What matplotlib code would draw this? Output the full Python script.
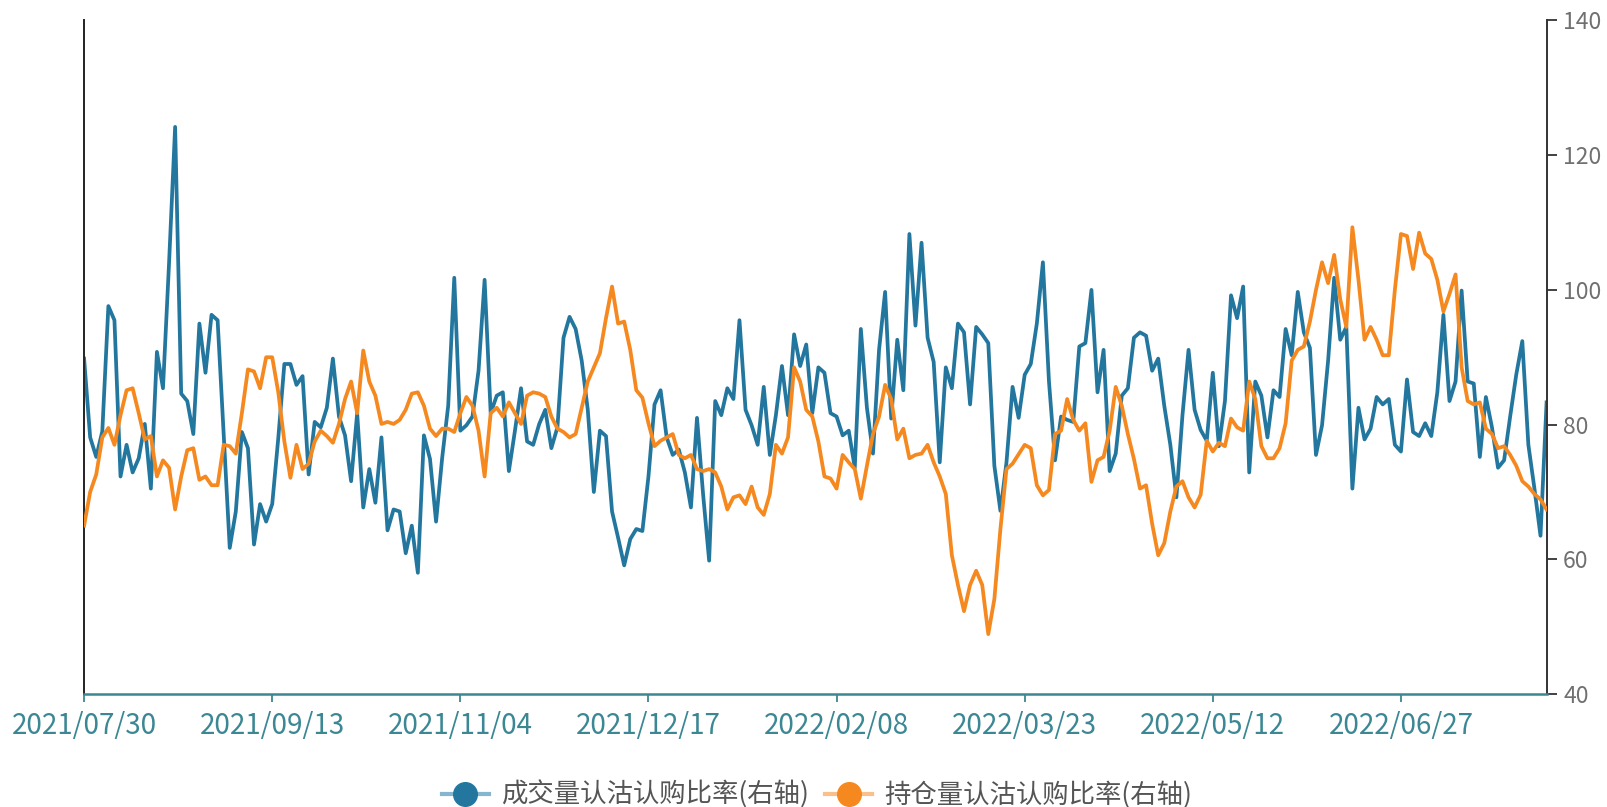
import matplotlib
matplotlib.use('Agg')
import matplotlib.pyplot as plt
import pandas as pd
from matplotlib.lines import Line2D

plt.rcParams['font.family'] = ['Noto Sans CJK SC', 'DejaVu Sans']

series_names = ['成交量认沽认购比率(右轴)', '持仓量认沽认购比率(右轴)']

vol_ratio = [
    89.8, 78.1, 75.2, 79.0, 97.6, 95.5, 72.3, 77.0, 72.9, 75.0,
    80.1, 70.5, 90.8, 85.4, 104.0, 124.2, 84.6, 83.5, 78.6, 95.0,
    87.7, 96.3, 95.5, 78.6, 61.7, 67.1, 78.9, 76.5, 62.2, 68.2,
    65.6, 68.2, 78.0, 89.0, 89.0, 85.9, 87.2, 72.6, 80.4, 79.6,
    82.5, 89.8, 81.2, 78.4, 71.6, 81.7, 67.7, 73.4, 68.4, 78.1,
    64.3, 67.4, 67.1, 60.9, 65.0, 58.0, 78.4, 74.9, 65.6, 75.0,
    82.8, 101.8, 79.1, 79.9, 81.2, 88.0, 101.5, 81.7, 84.3, 84.8,
    73.1, 79.1, 85.4, 77.5, 77.0, 80.1, 82.2, 76.5, 79.6, 92.9,
    96.0, 94.2, 89.5, 82.2, 70.0, 79.1, 78.3, 67.1, 63.2, 59.1,
    63.0, 64.5, 64.2, 72.3, 83.0, 85.1, 78.1, 75.5, 76.3, 72.9,
    67.7, 81.0, 69.7, 59.8, 83.5, 81.4, 85.4, 83.8, 95.5, 82.2,
    79.9, 77.0, 85.6, 75.5, 81.4, 88.7, 81.4, 93.4, 88.7, 91.9,
    81.7, 88.5, 87.7, 81.7, 81.2, 78.4, 79.1, 73.6, 94.2, 82.5,
    75.7, 91.1, 99.7, 80.9, 92.6, 85.1, 108.3, 94.7, 107.0, 92.9,
    89.3, 74.4, 88.5, 85.4, 95.0, 93.7, 83.0, 94.5, 93.4, 92.1,
    73.9, 67.2, 74.4, 85.6, 81.0, 87.4, 89.0, 95.0, 104.1, 86.4,
    74.7, 81.2, 80.7, 80.4, 91.6, 92.1, 100.0, 84.8, 91.1, 73.1,
    75.7, 84.3, 85.4, 92.9, 93.7, 93.2, 88.0, 89.8, 82.8, 77.0,
    69.2, 81.4, 91.1, 82.2, 79.2, 77.6, 87.7, 76.8, 83.5, 99.2,
    95.8, 100.5, 72.9, 86.4, 84.3, 78.1, 85.1, 84.1, 94.2, 90.3,
    99.7, 93.7, 91.4, 75.5, 79.9, 89.5, 101.8, 92.6, 94.5, 70.5,
    82.5, 77.8, 79.4, 84.1, 83.0, 83.8, 77.0, 76.0, 86.7, 78.9,
    78.3, 80.2, 78.3, 84.8, 96.3, 83.5, 86.4, 99.9, 86.4, 86.1,
    75.2, 84.1, 79.6, 73.6, 74.7, 81.2, 87.4, 92.4, 77.0, 70.5,
    63.5, 83.3,
]

oi_ratio = [
    65.0, 70.0, 72.6, 78.1, 79.5, 77.0, 81.4, 85.1, 85.4, 81.7,
    77.8, 78.3, 72.3, 74.7, 73.6, 67.4, 72.3, 76.2, 76.5, 71.8,
    72.3, 71.0, 71.0, 77.0, 76.8, 75.7, 81.7, 88.2, 87.9, 85.4,
    90.0, 90.0, 84.8, 77.5, 72.1, 77.0, 73.4, 74.2, 77.5, 79.1,
    78.3, 77.3, 80.1, 83.8, 86.4, 81.7, 91.0, 86.4, 84.3, 80.1,
    80.4, 80.1, 80.7, 82.2, 84.6, 84.8, 82.8, 79.4, 78.3, 79.4,
    79.4, 78.9, 81.7, 84.1, 82.8, 79.1, 72.3, 81.7, 82.5, 81.2,
    83.3, 81.7, 80.1, 84.3, 84.8, 84.6, 84.1, 81.2, 79.4, 78.9,
    78.1, 78.6, 82.5, 86.4, 88.5, 90.6, 95.8, 100.5, 95.0, 95.3,
    91.1, 85.1, 84.0, 80.2, 76.8, 77.6, 78.1, 78.6, 75.5, 75.0,
    75.5, 73.4, 73.1, 73.4, 72.9, 70.8, 67.4, 69.2, 69.5, 68.2,
    70.8, 67.7, 66.6, 69.7, 77.0, 75.7, 78.1, 88.5, 86.4, 82.2,
    81.2, 77.5, 72.3, 72.0, 70.5, 75.5, 74.4, 73.4, 69.0, 73.9,
    78.6, 81.2, 85.9, 83.8, 77.8, 79.4, 75.0, 75.5, 75.7, 77.0,
    74.4, 72.3, 69.7, 60.6, 56.2, 52.3, 56.2, 58.3, 56.2, 48.9,
    54.1, 64.5, 73.4, 74.2, 75.6, 77.0, 76.5, 71.0, 69.5, 70.3,
    78.6, 79.1, 83.8, 80.7, 79.1, 80.2, 71.5, 74.7, 75.2, 79.1,
    85.6, 82.8, 78.6, 74.9, 70.5, 71.0, 65.3, 60.6, 62.4, 67.1,
    70.8, 71.6, 69.2, 67.7, 69.6, 77.6, 76.0, 77.3, 76.8, 80.9,
    79.6, 79.1, 86.4, 83.8, 76.8, 75.0, 75.0, 76.5, 80.2, 89.5,
    91.1, 91.6, 95.3, 100.0, 104.1, 101.0, 105.2, 98.6, 94.5, 109.3,
    101.5, 92.6, 94.5, 92.6, 90.3, 90.3, 100.0, 108.3, 108.0, 103.1,
    108.5, 105.4, 104.6, 101.5, 96.8, 99.4, 102.3, 88.5, 83.5, 83.0,
    83.3, 79.4, 78.6, 76.5, 76.8, 75.5, 73.9, 71.6, 70.8, 69.7,
    68.9, 67.4,
]

# Exchange trading calendar (weekday holidays removed)
holidays = [
    '2021-09-20', '2021-09-21', '2021-10-01', '2021-10-04', '2021-10-05',
    '2021-10-06', '2021-10-07', '2022-01-03', '2022-01-31', '2022-02-01',
    '2022-02-02', '2022-02-03', '2022-02-04', '2022-04-04', '2022-04-05',
    '2022-05-02', '2022-05-03', '2022-05-04', '2022-06-03',
]
all_days = pd.bdate_range('2021-07-30', '2022-09-30')
dates = [d.strftime('%Y/%m/%d') for d in all_days
         if d.strftime('%Y-%m-%d') not in holidays][:len(vol_ratio)]
tick_step = 31

BLUE = '#23779f'
ORANGE = '#f5891f'
AXIS_TEAL = '#3b8794'

fig = plt.figure(figsize=(16.08, 8.07), dpi=100)
ax = fig.add_axes([0.0523, 0.14, 0.9095, 0.8346])

x = list(range(len(vol_ratio)))
ax.plot(x, vol_ratio, color=BLUE, lw=2.7, zorder=2, solid_joinstyle='round')
ax.plot(x, oi_ratio, color=ORANGE, lw=2.7, zorder=3, solid_joinstyle='round')

ax.set_xlim(0, len(vol_ratio) - 1)
ax.set_ylim(40, 140)

ax.yaxis.tick_right()
ax.set_yticks(range(40, 141, 20))
ax.tick_params(axis='y', direction='out', length=7, width=1.3, colors='#333333',
               labelcolor='#707070', labelsize=16.5, pad=5)

tick_pos = list(range(0, len(dates), tick_step))
ax.set_xticks(tick_pos)
ax.set_xticklabels([dates[i] for i in tick_pos])
ax.tick_params(axis='x', direction='out', length=6, width=1.3, colors=AXIS_TEAL,
               labelcolor=AXIS_TEAL, labelsize=20, pad=6)

ax.spines['top'].set_visible(False)
ax.spines['left'].set_color('#222222')
ax.spines['left'].set_linewidth(1.4)
ax.spines['right'].set_color('#333333')
ax.spines['right'].set_linewidth(1.4)
ax.spines['bottom'].set_color(AXIS_TEAL)
ax.spines['bottom'].set_linewidth(1.8)

handles = [
    Line2D([], [], color='#86b5cf', lw=3, marker='o', markersize=17,
           markerfacecolor=BLUE, markeredgecolor=BLUE),
    Line2D([], [], color='#f9c08a', lw=3, marker='o', markersize=17,
           markerfacecolor=ORANGE, markeredgecolor=ORANGE),
]
fig.legend(handles, series_names, loc='center', bbox_to_anchor=(0.508, 0.015),
           ncol=2, frameon=False, fontsize=19, labelcolor='#555555',
           handlelength=1.8, handletextpad=0.45, columnspacing=0.6)

fig.savefig('out.png', dpi=100)
